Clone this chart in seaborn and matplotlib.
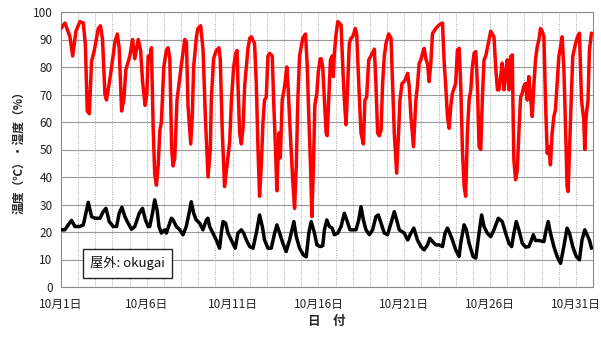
import matplotlib
matplotlib.use("Agg")
import matplotlib.pyplot as plt
import seaborn as sns
import pandas as pd
from matplotlib.ticker import MultipleLocator

# ---- humidity (red), day offset from 10/1 00:00 ----
hum_day = [
    0.00, 0.23, 0.52, 0.68, 0.87, 1.10, 1.30, 1.42, 1.53, 1.65, 1.78, 1.94, 2.17, 2.30, 2.42, 2.56, 2.65,
    2.81, 2.95, 3.14, 3.28, 3.39, 3.53, 3.66, 3.78, 4.01, 4.17, 4.30, 4.50, 4.64, 4.75, 4.90, 5.00,
    5.08, 5.18, 5.27, 5.37, 5.46, 5.56, 5.66, 5.76, 5.85, 5.99, 6.14, 6.24, 6.34, 6.39, 6.45, 6.53, 6.63,
    6.76, 6.88, 7.00, 7.21, 7.31, 7.40, 7.56, 7.65, 7.73, 7.89, 7.98, 8.14, 8.28, 8.41, 8.57, 8.70, 8.76,
    8.89, 9.05, 9.20, 9.28, 9.40, 9.53, 9.67, 9.83,
    9.93, 10.06, 10.18, 10.26, 10.31, 10.41, 10.51, 10.61, 10.70, 10.80, 10.90, 11.00, 11.09, 11.28, 11.38,
    11.48, 11.57, 11.67, 11.77, 11.86, 11.96, 12.06, 12.16, 12.31, 12.39, 12.50, 12.58, 12.70, 12.78, 12.89,
    13.03, 13.16, 13.24, 13.36, 13.51, 13.61, 13.71, 13.80, 13.90, 14.09, 14.25, 14.35, 14.44, 14.54, 14.62,
    14.71, 14.79, 14.91, 14.99, 15.10,
    15.16, 15.25, 15.35, 15.45, 15.51, 15.60, 15.70, 15.80, 15.87, 15.93, 16.03, 16.13, 16.32, 16.42, 16.51,
    16.61, 16.71, 16.80, 16.90, 17.00, 17.15, 17.23, 17.35, 17.48, 17.62, 17.71, 17.81, 17.93, 18.06, 18.26,
    18.35, 18.45, 18.55, 18.65, 18.74, 18.84, 18.94, 19.09, 19.23, 19.32, 19.42, 19.56, 19.67, 19.75, 19.87,
    20.00, 20.10, 20.20, 20.29, 20.39, 20.54,
    20.68, 20.77, 20.87, 20.97, 21.07, 21.16, 21.26, 21.36, 21.45, 21.55, 21.65, 21.74, 21.84, 22.03, 22.23,
    22.33, 22.42, 22.52, 22.62, 22.71, 22.81, 22.91, 23.00, 23.10, 23.20, 23.29, 23.39, 23.49, 23.58, 23.68,
    23.78, 23.88, 23.97, 24.07, 24.17, 24.26, 24.36, 24.46, 24.55, 24.65, 24.75, 24.94, 25.04, 25.23, 25.33,
    25.43,
    25.52, 25.62, 25.71, 25.81, 25.91, 26.00, 26.10, 26.20, 26.30, 26.33, 26.39, 26.49, 26.59, 26.68, 26.78,
    26.88, 26.97, 27.07, 27.17, 27.26, 27.36, 27.46, 27.55, 27.65, 27.75, 27.85, 27.94, 28.04, 28.14, 28.23,
    28.33, 28.43, 28.52, 28.62, 28.72, 28.81, 28.91, 29.01, 29.11, 29.20, 29.30, 29.40, 29.49, 29.55, 29.63,
    29.73, 29.82, 29.94, 30.07, 30.21, 30.33, 30.46, 30.52, 30.60, 30.71, 30.79, 30.91,
]
hum_val = [
    94, 96, 91, 84, 93, 96.5, 96, 88, 64, 63, 82, 86, 94, 95, 90, 70, 68,
    74, 80, 89, 92, 87, 64, 68, 79, 84, 90, 83, 90, 86, 75, 66, 70,
    84, 83, 87, 58, 41, 37, 44, 57, 60, 80, 86, 87, 83, 68, 50, 44, 47,
    68, 74, 80, 90, 89, 66, 52, 62, 80, 91, 94, 95, 86, 62, 40, 50, 68,
    83, 86, 87, 83, 56, 36.5, 44, 53,
    68, 80, 85, 86, 74, 56, 52, 58, 73, 80, 87, 90.5, 91, 88.5, 74,
    50, 33, 44, 60, 68, 69, 84, 85, 84, 68, 50, 35, 56, 47, 68,
    73, 80, 72, 56, 38, 28.6, 44, 68, 84, 90.5, 92, 80, 62, 44, 25.6,
    44, 66, 70.5, 78, 83,
    83, 80, 68, 56, 55, 68, 82.6, 84, 76.5, 85, 92, 96.5, 95.3, 80, 68,
    59, 74, 88.6, 90.5, 91, 94, 92, 74, 56, 52, 68, 69, 82.6, 84, 86.5,
    74, 56, 55, 57, 74, 84, 88.6, 92, 90.5, 74, 56, 41.4, 56, 68, 74,
    74.7, 76, 77.7, 73, 62, 51,
    68, 73, 81.4, 82.6, 85, 86.8, 83, 81, 74.7, 81.4, 92.3, 93, 94, 95.3, 96,
    81.4, 73, 62, 57.7, 65.6, 70.5, 72.3, 74, 86.2, 86.8, 74, 50, 36.5, 33, 56,
    68, 71.7, 80, 85, 85.6, 74, 51, 50, 68, 82.6, 84, 90, 93, 91, 80,
    71.7,
    71.7, 76.5, 81.4, 71.7, 77.7, 82.6, 71.7, 83.8, 84.4, 68, 46, 39, 42.6, 56, 69,
    70.5, 73, 74, 68, 76.5, 69, 62, 73, 82.6, 87.4, 90, 94, 93, 91, 68,
    48.6, 51, 44.4, 56, 62, 64.4, 74, 83.8, 87.4, 91, 80, 58, 36.5, 34.7, 50,
    68, 83.8, 87.4, 90.5, 92.3, 68, 61, 50, 62, 68, 86, 92.3,
]

# ---- temperature (black) ----
temp_day = [
    0.00, 0.23, 0.42, 0.62, 0.81, 1.10, 1.30, 1.45, 1.59, 1.78, 1.98, 2.27, 2.46, 2.62, 2.81,
    3.04, 3.24, 3.39, 3.55, 3.72, 3.91, 4.11, 4.30, 4.56, 4.75, 4.92,
    5.08, 5.17, 5.33, 5.46, 5.60, 5.71, 5.85, 6.04, 6.14, 6.43, 6.53, 6.72, 6.92, 7.11, 7.30,
    7.46, 7.59, 7.73, 7.88, 8.08, 8.27, 8.47, 8.56, 8.66, 8.85, 9.05, 9.24, 9.34, 9.44, 9.59, 9.73, 9.92,
    10.15, 10.31, 10.51, 10.64, 10.80, 11.00, 11.19, 11.38, 11.57, 11.73, 11.86, 12.06, 12.25, 12.45, 12.58,
    12.74, 12.93, 13.12, 13.32, 13.57, 13.71, 13.90, 14.13, 14.29, 14.44, 14.58, 14.77, 14.91, 15.10, 15.25,
    15.35, 15.49, 15.64, 15.80, 15.93, 16.13, 16.32, 16.51, 16.65, 16.84, 17.00, 17.19, 17.35, 17.48, 17.62,
    17.77, 17.97, 18.16, 18.35, 18.49, 18.65, 18.84, 19.03, 19.23, 19.42, 19.56, 19.71, 20.00, 20.20, 20.39,
    20.56,
    20.77, 20.97, 21.16, 21.36, 21.49, 21.65, 21.84, 22.03, 22.23, 22.38, 22.52, 22.65, 22.81, 23.00, 23.20,
    23.29, 23.49, 23.62, 23.78, 24.01, 24.17, 24.36, 24.51, 24.65, 24.84, 25.04, 25.23, 25.48,
    25.71, 25.91, 26.10, 26.26, 26.39, 26.53, 26.68, 26.88, 27.07, 27.26, 27.42, 27.52, 27.65, 27.85, 28.14,
    28.27, 28.39, 28.52, 28.72, 28.91, 29.11, 29.30, 29.49, 29.63, 29.82, 30.02, 30.21, 30.36, 30.52, 30.65,
    30.79, 30.91,
]
temp_val = [
    20.8, 20.8, 22.6, 24.2, 22, 22, 22.6, 26.8, 30.8, 25.6, 25, 25, 27.4, 28.6, 23.8,
    22, 22, 26.8, 29, 25.6, 23.2, 21, 22, 26.8, 28.6, 24.4,
    22, 22, 26.8, 31.7, 28, 22, 19.6, 20.8, 19.6, 25, 24.4, 22, 20.8, 19, 22,
    26.8, 31, 26.8, 24.4, 23.2, 20.8, 24.4, 25, 22, 19.6, 17.1, 14.1, 19.6, 23.8, 23.2, 19.6, 17.1,
    14.1, 19.6, 20.8, 19.6, 17.1, 14.7, 14.1, 19.6, 26.2, 22, 17.1, 14.1, 14.1, 19.6, 22.6,
    19.6, 15.9, 12.9, 17.1, 23.8, 18.3, 14.1, 11.6, 11, 19.6, 23.8, 19.6, 15.3, 14.7, 15,
    20.8, 24.4, 22, 21.4, 19, 19.6, 22, 26.8, 24.4, 20.8, 20.8, 20.8, 24.4, 29.2, 24.4,
    20.8, 19, 20.8, 25.6, 26.2, 23.2, 19.6, 19, 23.2, 27.4, 24.4, 20.8, 19.6, 17.1, 19.6,
    21.4,
    17.1, 14.7, 13.5, 15.3, 17.7, 16.5, 15.3, 15.3, 14.7, 19.6, 21.4, 19.6, 17.1, 13.5, 11.1,
    15.9, 22.6, 20.8, 15.9, 11.1, 10.5, 19.6, 26.2, 22, 19.6, 18.3, 20.8, 25,
    23.8, 19.6, 15.9, 14.7, 19.6, 23.8, 20.8, 15.9, 14.5, 14.7, 17.1, 19, 16.9, 16.9, 16.5,
    20.8, 23.8, 19.6, 14.7, 11.1, 8.6, 14.7, 21.4, 19.6, 14.7, 11.1, 9.9, 17.1, 20.8, 19,
    17.1, 14.1,
]

x_tick_pos = [0, 5, 10, 15, 20, 25, 30]
x_tick_labels = ["10月1日", "10月6日", "10月11日", "10月16日", "10月21日", "10月26日", "10月31日"]
y_ticks = [0, 10, 20, 30, 40, 50, 60, 70, 80, 90, 100]
box_text = "屋外: okugai"
y_label = "温度（℃）・湿度（%）"
x_label = "日　付"

sns.set_theme(style="white")
plt.rcParams["font.family"] = ["Noto Sans CJK JP", "DejaVu Sans"]

W, H = 601, 338
fig = plt.figure(figsize=(W / 100, H / 100), dpi=100)
L, R, T, B = 61, 593, 12, 287
ax = fig.add_axes([L / W, 1 - B / H, (R - L) / W, (B - T) / H])

hum_df = pd.DataFrame({"day": hum_day, "value": hum_val})
temp_df = pd.DataFrame({"day": temp_day, "value": temp_val})

sns.lineplot(data=hum_df, x="day", y="value", ax=ax, color="#ff0000",
             linewidth=2.5, sort=False, estimator=None, zorder=3)
sns.lineplot(data=temp_df, x="day", y="value", ax=ax, color="#000000",
             linewidth=2.5, sort=False, estimator=None, zorder=3)

ax.set_xlim(0, 31)
ax.set_ylim(0, 100)
ax.set_yticks(y_ticks)
ax.set_yticklabels([str(v) for v in y_ticks], fontsize=8.5, color="#222222")
ax.set_xticks(x_tick_pos)
ax.set_xticklabels(x_tick_labels, fontsize=8.5, color="#222222")
ax.xaxis.set_minor_locator(MultipleLocator(1))

ax.grid(axis="y", which="major", color="#9a9a9a", linewidth=0.8, linestyle="-")
ax.grid(axis="x", which="both", color="#a8a8a8", linewidth=0.7, linestyle=(0, (1, 1.5)))
ax.set_axisbelow(True)

for s in ax.spines.values():
    s.set_color("#8a8a8a")
    s.set_linewidth(0.8)

ax.tick_params(axis="x", which="major", direction="out", length=5, width=0.8, color="#8a8a8a", pad=3)
ax.tick_params(axis="x", which="minor", direction="out", length=3, width=0.6, color="#8a8a8a")
ax.tick_params(axis="y", which="major", direction="out", length=4, width=0.8, color="#8a8a8a", pad=2)

ax.set_xlabel(x_label, fontsize=9, fontweight="bold", labelpad=3)
ax.set_ylabel(y_label, fontsize=8.5, fontweight="bold")
ax.yaxis.set_label_coords(-0.066, 0.5)

ax.text(0.125, 0.086, box_text, transform=ax.transAxes, ha="center", va="center",
        fontsize=9.5, color="#111111", zorder=5,
        bbox=dict(boxstyle="square,pad=0.55", facecolor="white", edgecolor="#222222", linewidth=1.0))

fig.savefig("out.png", dpi=100)
